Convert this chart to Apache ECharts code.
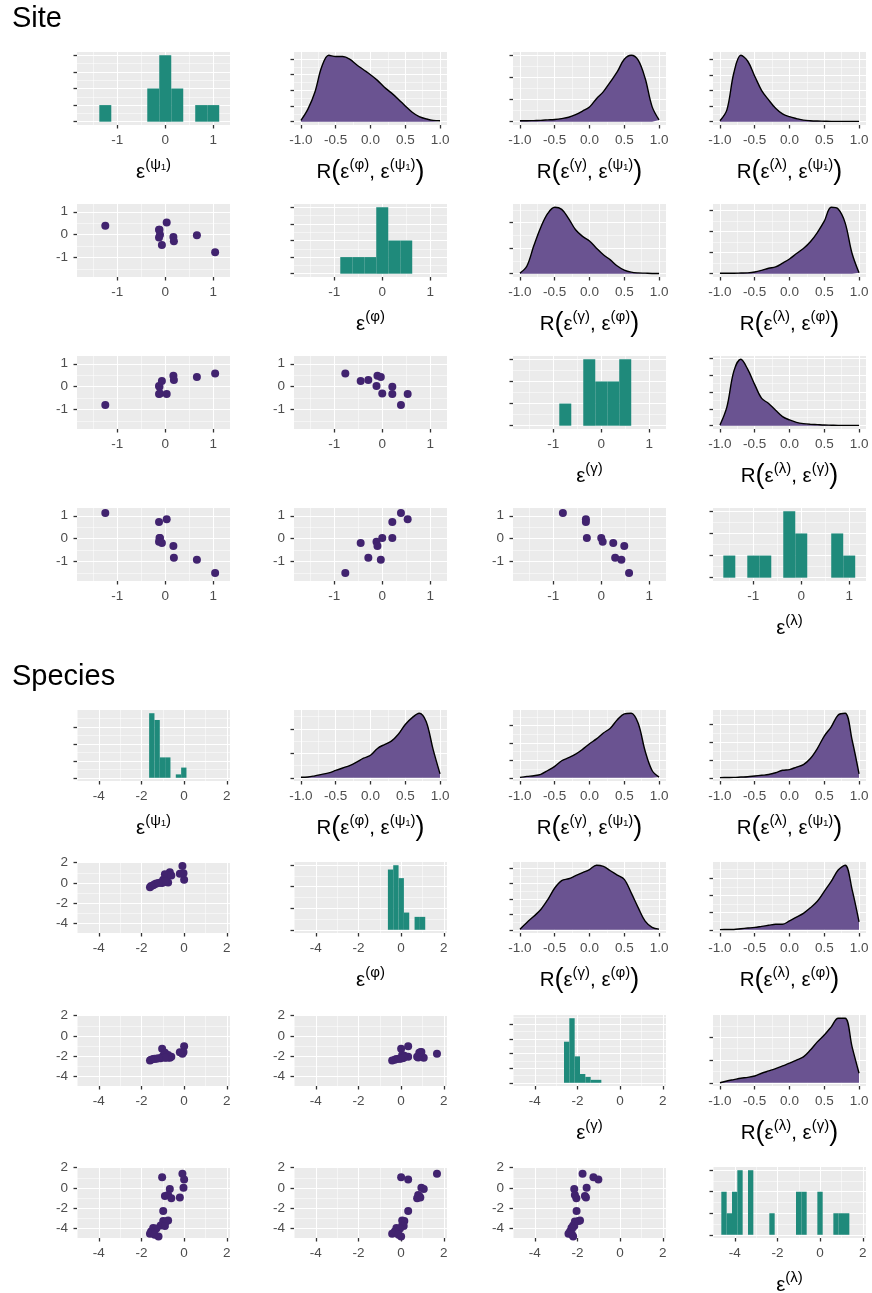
<!DOCTYPE html>
<html>
<head>
<meta charset="utf-8">
<script src="https://cdn.jsdelivr.net/npm/echarts@6/dist/echarts.min.js"></script>
<style>
  html, body { margin: 0; padding: 0; background: #ffffff; }
  #chart { width: 872px; height: 1293px; }
</style>
</head>
<body>
<div id="chart"></div>
<script>
// ---------------- data ----------------
const varLabels = ['ψ₁', 'φ', 'γ', 'λ'];

// Site-level random effects (11 sites)
const sitePsi1   = [-1.25, 0.03, -0.12, -0.11, -0.13, -0.07, 0.17, 0.18, 0.66, 1.04, -0.13];
const sitePhi    = [ 0.39, 0.53,  0.21,  0.00, -0.12, -0.45, -0.10, -0.29, -0.03, -0.77, 0.21];
const siteGamma  = [-0.80, -0.32, 0.00, -0.30, 0.03, 0.25, 0.48, 0.29, 0.42, 0.58, -0.32];
const siteLambda = [ 1.12, 0.85, 0.03, 0.03, -0.13, -0.19, -0.32, -0.83, -0.92, -1.50, 0.73];

// Site histograms: first bin edge, bin width, counts
const siteBinWidth = 0.25;
const siteHistStart = [-1.375, -0.875, -0.875, -1.625];
const sitePsi1Counts   = [1, 0, 0, 0, 2, 4, 2, 0, 1, 1];
const sitePhiCounts    = [1, 1, 1, 4, 2, 2];
const siteGammaCounts  = [1, 0, 3, 2, 2, 3];
const siteLambdaCounts = [1, 0, 1, 1, 0, 3, 2, 0, 0, 2, 1];
const siteHistStep = [1, 1, 1, 1];

// Species-level random effects (21 species)
const spPsi1   = [-0.08, -1.03, 0.00, -0.03, -0.67, -0.75, -0.90, -0.20, -0.60, -0.98, -0.75, -0.98, -0.85, -1.10, -0.90, -1.45, -1.30, -1.55, -1.60, -1.38, -1.20];
const spPhi    = [ 1.68,  0.00, 0.33,  0.95,  1.06,  0.80,  0.85,  0.90,  0.75,  0.33,  0.05,  0.15,  0.10,  0.05,  0.12, -0.22, -0.05, -0.30, -0.42, -0.12,  0.00];
const spGamma  = [-1.76, -1.25, -1.02, -1.57, -2.15, -2.12, -1.65, -1.60, -2.05, -2.04, -1.88, -1.95, -2.12, -2.20, -2.15, -2.28, -2.25, -2.35, -2.42, -2.25, -2.20];
const spLambda = [ 1.40,  1.07, 0.83,  0.02, -0.10, -0.70, -0.80, -0.93, -1.00, -2.27, -3.20, -3.25, -3.30, -3.70, -3.75, -3.95, -4.00, -4.30, -4.50, -4.60, -4.77];

const spBinWidth = 0.25;
const spHistStart = [-1.64, -0.62, -2.63, -4.63];
const spPsi1Counts   = [19, 17, 6, 6, 0, 1, 3];
const spPhiCounts    = [14, 15, 12, 4, 0, 3, 3];
const spGammaCounts  = [14, 22, 9, 3, 2, 1, 1];
const spLambdaCounts = [2, 1, 2, 3, 0, 3, 0, 0, 0, 1, 0, 0, 0, 0, 2, 2, 0, 0, 2, 0, 0, 1, 1, 1];
const spHistStep = [5, 5, 5, 1];

// Posterior densities of correlations, evaluated on rGrid
const rGrid = [-1.0, -0.9, -0.8, -0.7, -0.6, -0.5, -0.4, -0.3, -0.2, -0.1, 0.0, 0.1, 0.2, 0.3, 0.4, 0.5, 0.6, 0.7, 0.8, 0.9, 1.0];

const siteRPhiPsi1      = [0.02, 0.2, 0.47, 0.88, 1.06, 1.04, 1.04, 1.0, 0.91, 0.83, 0.75, 0.66, 0.55, 0.46, 0.36, 0.25, 0.15, 0.08, 0.045, 0.02, 0.015];
const siteRGammaPsi1    = [0.02, 0.02, 0.025, 0.03, 0.04, 0.05, 0.07, 0.1, 0.16, 0.24, 0.33, 0.52, 0.68, 0.9, 1.13, 1.41, 1.5, 1.39, 0.98, 0.34, 0.04];
const siteRLambdaPsi1   = [0.03, 0.38, 1.57, 2.13, 1.94, 1.46, 1.0, 0.7, 0.43, 0.25, 0.16, 0.1, 0.05, 0.03, 0.02, 0.015, 0.01, 0.01, 0.01, 0.01, 0.01];
const siteRGammaPhi     = [0.01, 0.15, 0.55, 0.91, 1.18, 1.3, 1.26, 1.08, 0.86, 0.73, 0.64, 0.5, 0.37, 0.27, 0.15, 0.07, 0.03, 0.015, 0.01, 0.005, 0.005];
const siteRLambdaPhi    = [0.01, 0.01, 0.01, 0.015, 0.02, 0.04, 0.08, 0.13, 0.16, 0.25, 0.35, 0.48, 0.6, 0.76, 0.98, 1.25, 1.58, 1.54, 1.21, 0.48, 0.02];
const siteRLambdaGamma  = [0.02, 0.56, 1.62, 1.97, 1.67, 1.22, 0.81, 0.66, 0.46, 0.27, 0.17, 0.1, 0.06, 0.04, 0.03, 0.02, 0.015, 0.01, 0.01, 0.01, 0.01];
const siteRStep = [0.25, 0.5, 0.5, 0.5, 0.5, 0.5];

const spRPhiPsi1        = [0.01, 0.015, 0.04, 0.07, 0.1, 0.15, 0.2, 0.25, 0.32, 0.4, 0.46, 0.6, 0.68, 0.75, 0.89, 1.09, 1.23, 1.32, 1.15, 0.58, 0.08];
const spRGammaPsi1      = [0.01, 0.04, 0.06, 0.1, 0.21, 0.33, 0.49, 0.58, 0.68, 0.82, 0.98, 1.12, 1.29, 1.43, 1.67, 1.84, 1.86, 1.57, 0.77, 0.21, 0.02];
const spRLambdaPsi1     = [0.005, 0.008, 0.01, 0.02, 0.03, 0.05, 0.07, 0.09, 0.14, 0.21, 0.23, 0.3, 0.37, 0.54, 0.82, 1.17, 1.43, 1.76, 1.81, 1.06, 0.11];
const spRGammaPhi       = [0.01, 0.12, 0.22, 0.33, 0.49, 0.68, 0.8, 0.83, 0.88, 0.93, 0.98, 1.05, 1.03, 0.96, 0.89, 0.82, 0.6, 0.36, 0.14, 0.04, 0.01];
const spRLambdaPhi      = [0.005, 0.008, 0.01, 0.03, 0.05, 0.07, 0.1, 0.13, 0.16, 0.16, 0.26, 0.37, 0.48, 0.64, 0.83, 1.12, 1.41, 1.74, 1.88, 1.17, 0.23];
const spRLambdaGamma    = [0.0, 0.04, 0.07, 0.1, 0.12, 0.15, 0.21, 0.26, 0.31, 0.37, 0.43, 0.5, 0.57, 0.72, 0.9, 1.05, 1.23, 1.42, 1.42, 0.79, 0.21];
const spRStep = [0.5, 0.5, 0.5, 0.25, 0.5, 0.5];

// axis ticks
const siteTicks = [-1, 0, 1];
const siteMinor = [-1.5, -0.5, 0.5];
const spTicks = [-4, -2, 0, 2];
const spMinor = [-5, -3, -1, 1];
const spYMinor = [-3, -1, 1];
const rTicks = [-1, -0.5, 0, 0.5, 1];
const rMinor = [-0.75, -0.25, 0.25, 0.75];

// ---------------- layout & style ----------------
const COL_LEFT = [77, 294, 513, 713];
const PANEL_W = 153;
const SITE_TOP = [52, 204, 356, 508];
const SITE_H = 73;
const SP_TOP = [710, 862, 1015, 1167];
const SP_H = 71;

const FONT = '"Liberation Sans", Arial, Helvetica, "DejaVu Sans", sans-serif';
const BG = '#EBEBEB';
const FILL = '#6A5391';
const POINT = '#41236F';
const TEAL = '#1F8A7B';
const TICK_COL = '#333333';
const LABEL_COL = '#4D4D4D';

const nameRich = {
  m: { fontSize: 20.5, fontFamily: FONT, color: '#000', lineHeight: 30 },
  p: { fontSize: 27, fontFamily: FONT, color: '#000', lineHeight: 30 },
  s: { fontSize: 15, fontFamily: FONT, color: '#000', lineHeight: 30, padding: [0, 0, 14, 0] }
};
function diagName(i) { return '{m|ε}{s|(' + varLabels[i] + ')}'; }
function corrName(c, r) {
  return '{m|R}{p|(}{m|ε}{s|(' + varLabels[c] + ')}{m|, ε}{s|(' + varLabels[r] + ')}{p|)}';
}

function fmt(v) { return v < 0 ? '-' + Math.abs(v) : String(v); }
function fmt1(v) { return v < 0 ? '-' + Math.abs(v).toFixed(1) : v.toFixed(1); }
function stepTicks(step, max) {
  const out = [];
  for (let k = 0; k * step <= max * 1.05 + 1e-9; k++) out.push(+(k * step).toFixed(6));
  return out;
}
function halfTicks(step, max) {
  const out = [];
  for (let k = 0; (k + 0.5) * step <= max * 1.05 + 1e-9; k++) out.push(+((k + 0.5) * step).toFixed(6));
  return out;
}

const grids = [], xAxes = [], yAxes = [], series = [];

function addPanel(o) {
  const gi = grids.length;
  grids.push({
    left: o.left, top: o.top, width: PANEL_W, height: o.height,
    show: true, backgroundColor: BG, borderWidth: 0,
    containLabel: false, outerBoundsMode: 'none'
  });
  const xi = xAxes.length;
  xAxes.push({
    type: 'value', gridIndex: gi, position: 'bottom', min: o.xRange[0], max: o.xRange[1],
    axisLine: { show: false, onZero: false },
    axisTick: { show: true, length: 3.5, customValues: o.xTicks, lineStyle: { color: TICK_COL, width: 1.3 } },
    axisLabel: { show: true, customValues: o.xTicks, formatter: o.xFmt, color: LABEL_COL, fontSize: 13.5, fontFamily: FONT, margin: 8 },
    splitLine: { show: true, lineStyle: { color: '#FFFFFF', width: 1.1 } },
    name: o.xName || '', nameLocation: 'middle', nameGap: 32, nameMoveOverlap: false,
    nameTextStyle: { rich: nameRich }
  });
  xAxes.push({
    type: 'value', gridIndex: gi, position: 'top', min: o.xRange[0], max: o.xRange[1],
    axisLine: { show: false, onZero: false }, axisTick: { show: false, customValues: o.xMinor },
    axisLabel: { show: false, customValues: o.xMinor },
    splitLine: { show: true, lineStyle: { color: '#FFFFFF', width: 0.5 } }
  });
  const yi = yAxes.length;
  yAxes.push({
    type: 'value', gridIndex: gi, position: 'left', min: o.yRange[0], max: o.yRange[1],
    axisLine: { show: false, onZero: false },
    axisTick: { show: true, length: 3.5, customValues: o.yTicks, lineStyle: { color: TICK_COL, width: 1.3 } },
    axisLabel: { show: !!o.yLabels, customValues: o.yTicks, formatter: fmt, color: LABEL_COL, fontSize: 13.5, fontFamily: FONT, margin: 9 },
    splitLine: { show: true, lineStyle: { color: '#FFFFFF', width: 1.1 } }
  });
  yAxes.push({
    type: 'value', gridIndex: gi, position: 'right', min: o.yRange[0], max: o.yRange[1],
    axisLine: { show: false, onZero: false }, axisTick: { show: false, customValues: o.yMinor },
    axisLabel: { show: false, customValues: o.yMinor },
    splitLine: { show: true, lineStyle: { color: '#FFFFFF', width: 0.5 } }
  });
  return { xi: xi, yi: yi };
}

function buildBlock(b) {
  for (let r = 0; r < 4; r++) {
    for (let c = 0; c < 4; c++) {
      const base = { left: COL_LEFT[c], top: b.tops[r], height: b.height };
      if (r === c) {
        // histogram on the diagonal
        const counts = b.counts[r];
        const M = Math.max.apply(null, counts);
        const st = b.histStep[r];
        const ax = addPanel(Object.assign(base, {
          xRange: b.range, xTicks: b.ticks, xMinor: b.minor, xFmt: fmt,
          yRange: [-0.05 * M, 1.05 * M], yTicks: stepTicks(st, M), yMinor: halfTicks(st, M),
          yLabels: false, xName: diagName(r)
        }));
        const start = b.histStart[r], w = b.binWidth;
        const data = [];
        counts.forEach(function (n, k) { if (n > 0) data.push([start + k * w, start + (k + 1) * w, n]); });
        series.push({
          type: 'custom', xAxisIndex: ax.xi, yAxisIndex: ax.yi, data: data,
          encode: { x: [0, 1], y: 2 }, silent: true,
          renderItem: function (params, api) {
            const p0 = api.coord([api.value(0), api.value(2)]);
            const p1 = api.coord([api.value(1), 0]);
            return { type: 'rect', shape: { x: p0[0], y: p0[1], width: p1[0] - p0[0], height: p1[1] - p0[1] }, style: { fill: TEAL } };
          }
        });
      } else if (r < c) {
        // posterior density of the correlation above the diagonal
        const dens = b.dens[r + '' + c];
        const M = Math.max.apply(null, dens.values);
        const ax = addPanel(Object.assign(base, {
          xRange: [-1.1, 1.1], xTicks: rTicks, xMinor: rMinor, xFmt: fmt1,
          yRange: [-0.05 * M, 1.05 * M], yTicks: stepTicks(dens.step, M), yMinor: halfTicks(dens.step, M),
          yLabels: false, xName: corrName(c, r)
        }));
        series.push({
          type: 'line', xAxisIndex: ax.xi, yAxisIndex: ax.yi,
          data: rGrid.map(function (x, k) { return [x, dens.values[k]]; }),
          smooth: 0.35, symbol: 'none', silent: true,
          lineStyle: { color: '#000000', width: 1.4 },
          areaStyle: { color: FILL, opacity: 1 }
        });
      } else {
        // pairwise scatter below the diagonal
        const ax = addPanel(Object.assign(base, {
          xRange: b.range, xTicks: b.ticks, xMinor: b.minor, xFmt: fmt,
          yRange: b.yRange, yTicks: b.ticks, yMinor: b.yMinor,
          yLabels: true
        }));
        const xs = b.vars[c], ys = b.vars[r];
        series.push({
          type: 'scatter', xAxisIndex: ax.xi, yAxisIndex: ax.yi, silent: true,
          data: xs.map(function (x, k) { return [x, ys[k]]; }),
          symbolSize: 8, itemStyle: { color: POINT, opacity: 1 }
        });
      }
    }
  }
}

buildBlock({
  tops: SITE_TOP, height: SITE_H,
  range: [-1.84, 1.35], yRange: [-1.85, 1.34],
  ticks: siteTicks, minor: siteMinor, yMinor: siteMinor,
  vars: [sitePsi1, sitePhi, siteGamma, siteLambda],
  counts: [sitePsi1Counts, sitePhiCounts, siteGammaCounts, siteLambdaCounts],
  histStart: siteHistStart, binWidth: siteBinWidth, histStep: siteHistStep,
  dens: {
    '01': { values: siteRPhiPsi1, step: siteRStep[0] },
    '02': { values: siteRGammaPsi1, step: siteRStep[1] },
    '03': { values: siteRLambdaPsi1, step: siteRStep[2] },
    '12': { values: siteRGammaPhi, step: siteRStep[3] },
    '13': { values: siteRLambdaPhi, step: siteRStep[4] },
    '23': { values: siteRLambdaGamma, step: siteRStep[5] }
  }
});

buildBlock({
  tops: SP_TOP, height: SP_H,
  range: [-5.02, 2.15], yRange: [-4.93, 2.07],
  ticks: spTicks, minor: spMinor, yMinor: spYMinor,
  vars: [spPsi1, spPhi, spGamma, spLambda],
  counts: [spPsi1Counts, spPhiCounts, spGammaCounts, spLambdaCounts],
  histStart: spHistStart, binWidth: spBinWidth, histStep: spHistStep,
  dens: {
    '01': { values: spRPhiPsi1, step: spRStep[0] },
    '02': { values: spRGammaPsi1, step: spRStep[1] },
    '03': { values: spRLambdaPsi1, step: spRStep[2] },
    '12': { values: spRGammaPhi, step: spRStep[3] },
    '13': { values: spRLambdaPhi, step: spRStep[4] },
    '23': { values: spRLambdaGamma, step: spRStep[5] }
  }
});

const chart = echarts.init(document.getElementById('chart'), null, { renderer: 'canvas' });
chart.setOption({
  animation: false,
  backgroundColor: '#FFFFFF',
  title: [
    { text: 'Site', left: 12, top: 4, padding: 0, textStyle: { fontSize: 29, fontWeight: 'normal', color: '#000', fontFamily: FONT } },
    { text: 'Species', left: 12, top: 662, padding: 0, textStyle: { fontSize: 29, fontWeight: 'normal', color: '#000', fontFamily: FONT } }
  ],
  grid: grids,
  xAxis: xAxes,
  yAxis: yAxes,
  series: series
});
</script>
</body>
</html>
